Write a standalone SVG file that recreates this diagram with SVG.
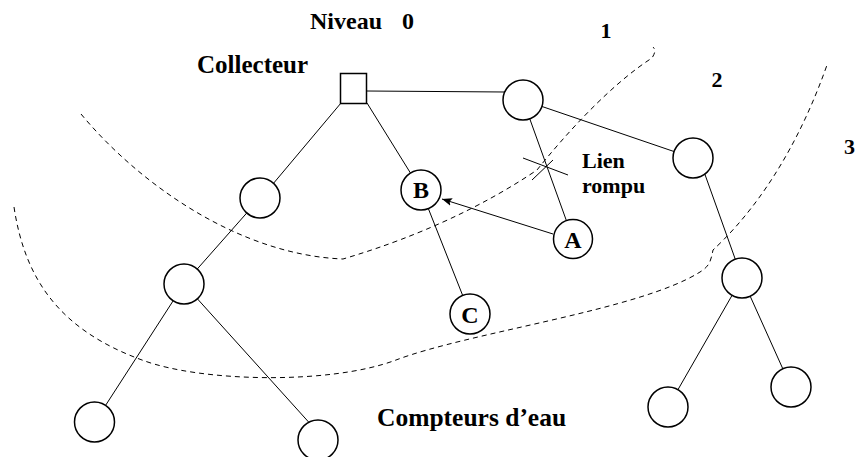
<svg xmlns="http://www.w3.org/2000/svg" width="857" height="457" viewBox="0 0 857 457">
<style>
.n{fill:#fff;stroke:#000;stroke-width:1.5}
.l{stroke:#000;stroke-width:1;fill:none}
.d{stroke:#000;stroke-width:1;fill:none;stroke-dasharray:5 4}
.t{font-family:"Liberation Serif","Times New Roman",serif;font-weight:bold;fill:#000}
</style>
<defs>
<marker id="ah" viewBox="0 0 10 8" refX="10" refY="4" markerWidth="10" markerHeight="8" markerUnits="userSpaceOnUse" orient="auto">
<path d="M0,0 L10,4 L0,8 L2,4 Z" fill="#000"/>
</marker>
</defs>
<rect width="857" height="457" fill="#fff"/>
<g id="boundaries">
<path class="d" d="M81,114 C140,185 240,255 343,259 C380,248 460,222 537,170 C565,135 610,85 652,58 C655,53 656,50 653,47"/>
<path class="d" d="M14,207 C25,280 60,330 142,360 C200,382 330,385 396,360 C470,332 640,310 700,272 C710,266 711,260 713,250 C740,225 790,170 827,65"/>
</g>
<g id="connectors">
<line class="l" x1="367" y1="91" x2="505" y2="92"/>
<line class="l" x1="341" y1="103" x2="262" y2="197"/>
<line class="l" x1="367" y1="103" x2="421" y2="190"/>
<line class="l" x1="260" y1="198" x2="184" y2="284"/>
<line class="l" x1="184" y1="284" x2="100" y2="414"/>
<line class="l" x1="184" y1="284" x2="314" y2="428"/>
<line class="l" x1="421" y1="190" x2="470" y2="314"/>
<line class="l" x1="523" y1="100" x2="573" y2="239"/>
<line class="l" x1="523" y1="100" x2="693" y2="158"/>
<line class="l" x1="698" y1="155" x2="742" y2="278"/>
<line class="l" x1="742" y1="278" x2="668" y2="407"/>
<line class="l" x1="742" y1="278" x2="791" y2="387"/>
<line class="l" x1="523" y1="158" x2="568" y2="175"/>
<line class="l" x1="532" y1="180" x2="553" y2="160"/>
<line class="l" x1="553" y1="234" x2="442" y2="199" marker-end="url(#ah)"/>
</g>
<g id="collecteur"><rect class="n" x="340.5" y="73.5" width="26" height="30"/></g>
<g id="n1"><circle class="n" cx="523" cy="100" r="20"/></g>
<g id="n2"><circle class="n" cx="693" cy="158" r="20"/></g>
<g id="n3"><circle class="n" cx="742" cy="278" r="20"/></g>
<g id="n4"><circle class="n" cx="668" cy="407" r="20"/></g>
<g id="n5"><circle class="n" cx="791" cy="387" r="20"/></g>
<g id="n6"><circle class="n" cx="260" cy="198" r="20"/></g>
<g id="n7"><circle class="n" cx="184" cy="284" r="20"/></g>
<g id="n8"><circle class="n" cx="94.5" cy="422" r="20"/></g>
<g id="n9"><circle class="n" cx="318" cy="440" r="20"/></g>
<g id="nB"><circle class="n" cx="421" cy="190" r="20"/><text class="t" x="421" y="198" font-size="24" text-anchor="middle">B</text></g>
<g id="nA"><circle class="n" cx="573" cy="239" r="19.5"/><text class="t" x="573" y="248" font-size="24" text-anchor="middle">A</text></g>
<g id="nC"><circle class="n" cx="470" cy="314" r="20"/><text class="t" x="470" y="323" font-size="24" text-anchor="middle">C</text></g>
<g id="labels">
<text class="t" x="310" y="29" font-size="24">Niveau<tspan x="402">0</tspan></text>
<text class="t" x="197" y="73" font-size="25">Collecteur</text>
<text class="t" x="606" y="38" font-size="22" text-anchor="middle">1</text>
<text class="t" x="717" y="87" font-size="22" text-anchor="middle">2</text>
<text class="t" x="844" y="154" font-size="22">3</text>
<text class="t" x="582" y="168" font-size="22">Lien</text>
<text class="t" x="582" y="193" font-size="22">rompu</text>
<text class="t" x="377" y="426" font-size="25.5">Compteurs d’eau</text>
</g>
</svg>
